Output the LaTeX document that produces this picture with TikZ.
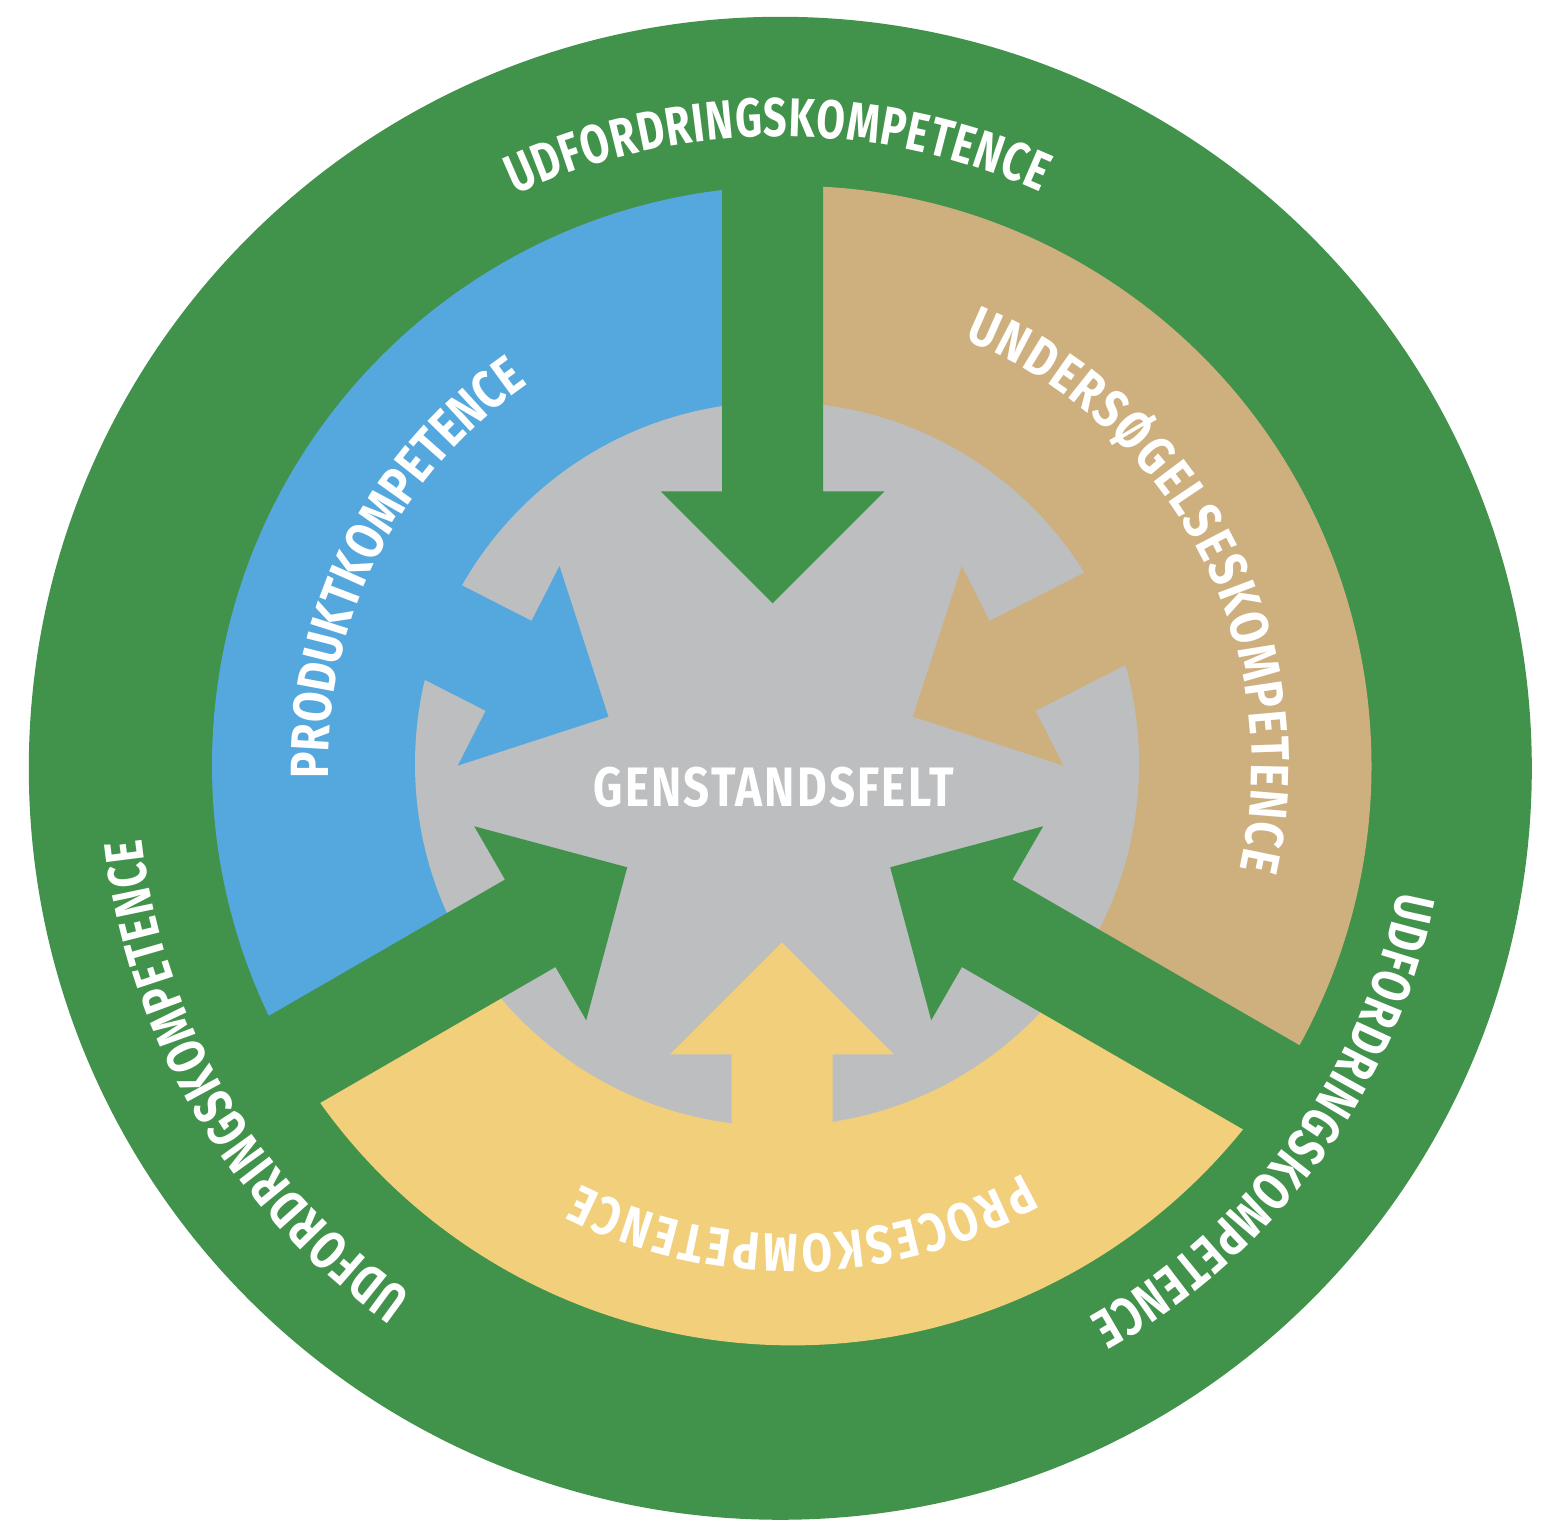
\documentclass[tikz,border=0pt]{standalone}
\usepackage{fontspec}
\usetikzlibrary{calc,decorations.text}
\newfontfamily\ringfamily[FakeStretch=0.76]{Fira Sans}
\newfontfamily\sectorfamily[FakeStretch=0.82]{Fira Sans}
\newfontfamily\feltfamily[FakeStretch=0.82,LetterSpace=4]{Fira Sans}
\newcommand{\ringfont}{\ringfamily\bfseries\fontsize{15.5}{18}\selectfont\color{white}}
\newcommand{\sectorfont}{\sectorfamily\bfseries\fontsize{15.3}{18}\selectfont\color{white}}
\definecolor{udgreen}{HTML}{41924A}
\definecolor{prodblue}{HTML}{55A8DE}
\definecolor{undtan}{HTML}{CEB07F}
\definecolor{procyellow}{HTML}{F2CF7B}
\definecolor{feltgray}{HTML}{BCBEC0}
% tip, direction, shaft length, colour
\newcommand{\kompil}[4]{%
  \fill[#4, shift={(#1)}, rotate=#2] (0,0) -- (-112,112) -- (-112,50.5) -- (-112-#3,50.5)
    -- (-112-#3,-50.5) -- (-112,-50.5) -- (-112,-112) -- cycle;}

\begin{document}
\begin{tikzpicture}[x=0.01cm, y=0.01cm,
    ringlabel/.style={decorate, decoration={text along path, text align={fit to path}, text={|\ringfont|#1}}},
    sectorlabel/.style={decorate, decoration={text along path, text align={fit to path}, text={|\sectorfont|#1}}}]
  \useasboundingbox (0,0) rectangle (1552,1537);
  \coordinate (G) at (780.3,768.7);
  \coordinate (K) at (791.7,771.4);
  \coordinate (M) at (777,773);
  %
  \fill[udgreen] (G) circle[radius=751.5];
  \fill[prodblue] (K) -- ++(90:579.7) arc[start angle=90, end angle=210, radius=579.7] -- cycle;
  \fill[procyellow] (K) -- ++(210:579.7) arc[start angle=210, end angle=330, radius=579.7] -- cycle;
  \fill[undtan] (K) -- ++(-30:579.7) arc[start angle=-30, end angle=90, radius=579.7] -- cycle;
  \fill[feltgray] (M) circle[radius=362];
  %
  \coordinate (tB) at (608.4,820.3);
  \coordinate (tU) at (912.8,820.3);
  \coordinate (tP) at (782,594.7);
  \coordinate (tT) at (772.7,933.7);
  \coordinate (tL) at (627.2,669.7);
  \coordinate (tR) at (890.2,669.7);
  \kompil{tB}{-27}{200}{prodblue}
  \kompil{tU}{207}{200}{undtan}
  \kompil{tP}{90}{200}{procyellow}
  \kompil{tT}{-90}{360}{udgreen}
  \kompil{tL}{30}{380}{udgreen}
  \kompil{tR}{150}{380}{udgreen}
  %
  \node[font=\feltfamily\bfseries\fontsize{15.8}{19}\selectfont, text=white, inner sep=0pt] (felt) at (773.8,749.5) {GENSTANDSFELT};
  \path[sectorlabel=PRODUKTKOMPETENCE] ($(K)+(181.6:463.5)$) arc[start angle=181.6, end angle=125.6, radius=463.5];
  \path[sectorlabel=UNDERSØGELSESKOMPETENCE] ($(K)+(67.9:460)$) arc[start angle=67.9, end angle=-13, radius=460];
  \path[sectorlabel=PROCESKOMPETENCE] ($(K)+(299.6:469)$) arc[start angle=299.6, end angle=243.2, radius=469];
  \path[ringlabel=UDFORDRINGSKOMPETENCE] ($(G)+(114.8:632)$) arc[start angle=114.8, end angle=65.7, radius=632];
  \path[ringlabel=UDFORDRINGSKOMPETENCE] ($(G)+(235:642)$) arc[start angle=235, end angle=186.3, radius=642];
  \path[ringlabel=UDFORDRINGSKOMPETENCE] ($(G)+(-11.3:630)$) arc[start angle=-11.3, end angle=-60.7, radius=630];
\end{tikzpicture}
\end{document}
